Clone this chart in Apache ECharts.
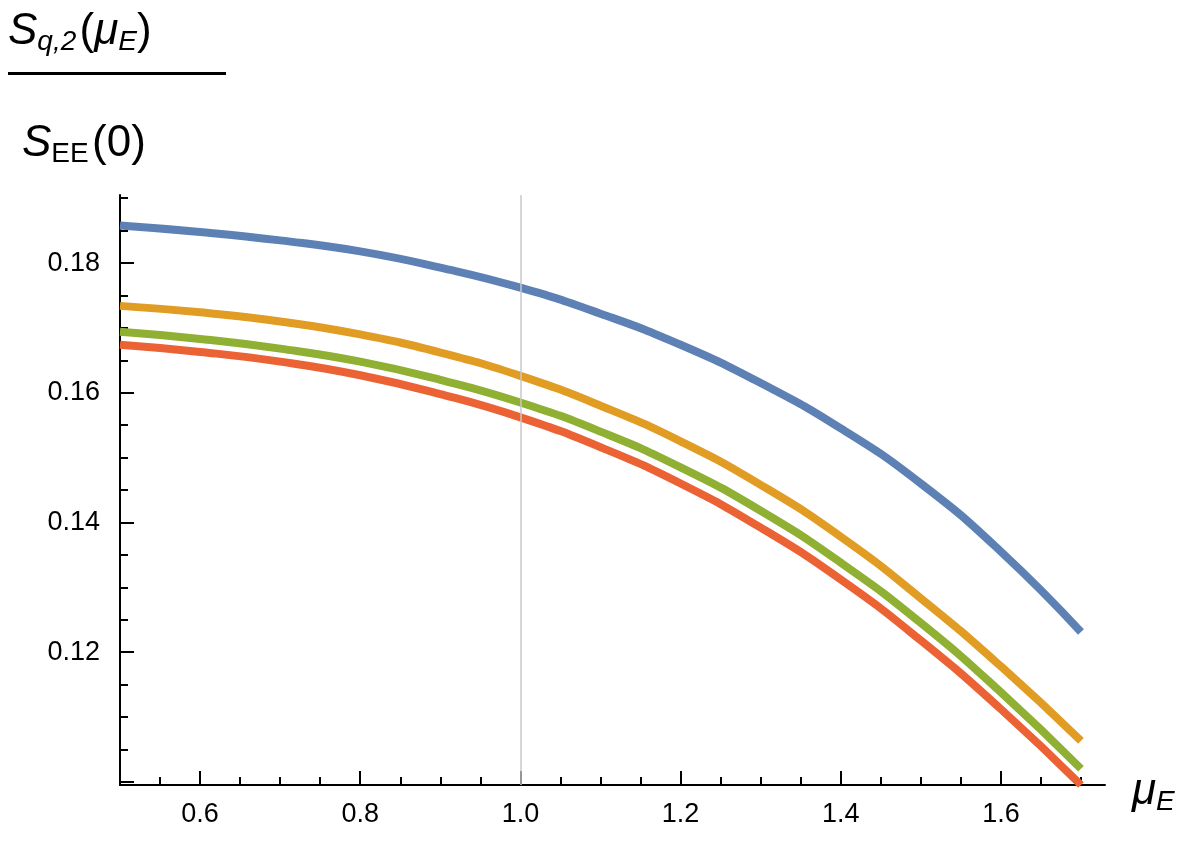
<!DOCTYPE html>
<html><head><meta charset="utf-8">
<script src="https://cdn.jsdelivr.net/npm/echarts@6/dist/echarts.min.js"></script>
<style>html,body{margin:0;background:#fff}#c{width:1204px;height:850px}</style>
</head><body><div id="c"></div>
<script>
// 数据
const xs = [0.5,0.6,0.7,0.8,0.9,1.0,1.1,1.2,1.3,1.4,1.5,1.6,1.7];
const blue   = [.1858,.1848,.1835,.1818,.1793,.1762,.1722,.1674,.1615,.1545,.1460,.1355,.1231];
const orange = [.1734,.1724,.1710,.1690,.1662,.1626,.1580,.1525,.1458,.1378,.1283,.1178,.1063];
const green  = [.1694,.1683,.1668,.1648,.1620,.1585,.1540,.1485,.1418,.1338,.1245,.1138,.1020];
const red    = [.1674,.1663,.1648,.1627,.1598,.1562,.1516,.1460,.1392,.1312,.1218,.1112,.0995];
const xLabels = [0.6,0.8,1.0,1.2,1.4,1.6];
const xMinor = [0.55,0.65,0.7,0.75,0.85,0.9,0.95,1.05,1.1,1.15,1.25,1.3,1.35,1.45,1.5,1.55,1.65,1.7];
const yLabels = [0.12,0.14,0.16,0.18];
const yMajor = [0.10,0.12,0.14,0.16,0.18];
const yMinor = [0.105,0.11,0.115,0.125,0.13,0.135,0.145,0.15,0.155,0.165,0.17,0.175,0.185,0.19];

const chart = echarts.init(document.getElementById('c'));
const font = 'Liberation Sans, Arial, sans-serif';
const xBase = { type: 'value', min: 0.5, max: 1.73, position: 'bottom', offset: 0, splitLine: { show: false } };
const yBase = { type: 'value', min: 0.0995, max: 0.1905, position: 'left', offset: 0, splitLine: { show: false } };
const tickAxis = (base, vals, len) => Object.assign({}, base, {
    axisLine: { show: false },
    axisTick: { show: true, inside: true, length: len, lineStyle: { color: '#000', width: 2 }, customValues: vals },
    axisLabel: { show: false }
});
const mk = (d, c) => ({
    type: 'line', xAxisIndex: 0, yAxisIndex: 0, showSymbol: false, smooth: true,
    data: xs.map((x, i) => [x, d[i]]), lineStyle: { color: c, width: 8 }, itemStyle: { color: c }
});
chart.setOption({
    animation: false,
    grid: { left: 120, top: 195, right: 99, bottom: 65 },
    xAxis: [
        Object.assign({}, xBase, {
            axisLine: { onZero: false, lineStyle: { color: '#000', width: 2 } },
            axisTick: { show: false },
            axisLabel: { customValues: xLabels, color: '#000', fontSize: 27, fontFamily: font, margin: 16,
                formatter: v => v.toFixed(1) }
        }),
        tickAxis(xBase, xLabels, 14),
        tickAxis(xBase, xMinor, 8)
    ],
    yAxis: [
        Object.assign({}, yBase, {
            axisLine: { onZero: false, lineStyle: { color: '#000', width: 2 } },
            axisTick: { show: false },
            axisLabel: { customValues: yLabels, color: '#000', fontSize: 27, fontFamily: font, margin: 20,
                formatter: v => v.toFixed(2) }
        }),
        tickAxis(yBase, yMajor, 14),
        tickAxis(yBase, yMinor, 8)
    ],
    series: [
        Object.assign(mk(blue, '#5E81B5'), {
            markLine: { silent: true, symbol: 'none', label: { show: false },
                lineStyle: { color: '#c8c8c8', width: 1.5, type: 'solid' }, data: [{ xAxis: 1.0 }] }
        }),
        mk(orange, '#E19C24'),
        mk(green, '#8FB032'),
        mk(red, '#EB6235')
    ],
    graphic: [
        { type: 'text', left: 8, top: 10, style: {
            text: '{s|S}{sub|q,2} {n|(}{s|μ}{sub|E}{n|)}', fill: '#000',
            rich: { s: { fontSize: 44, fontStyle: 'italic', fontFamily: font },
                    n: { fontSize: 44, fontFamily: font },
                    sub: { fontSize: 28, fontStyle: 'italic', fontFamily: font, verticalAlign: 'bottom', padding: [20, 0, 0, 0] } } } },
        { type: 'rect', shape: { x: 8, y: 72, width: 218, height: 3 }, style: { fill: '#000' } },
        { type: 'text', left: 22, top: 122, style: {
            text: '{s|S}{sub|EE} {n|(0)}', fill: '#000',
            rich: { s: { fontSize: 44, fontStyle: 'italic', fontFamily: font },
                    n: { fontSize: 44, fontFamily: font },
                    sub: { fontSize: 28, fontFamily: font, verticalAlign: 'bottom', padding: [20, 0, 0, 0] } } } },
        { type: 'text', left: 1132, top: 770, style: {
            text: '{s|μ}{sub|E}', fill: '#000',
            rich: { s: { fontSize: 44, fontStyle: 'italic', fontFamily: font },
                    sub: { fontSize: 28, fontStyle: 'italic', fontFamily: font, verticalAlign: 'bottom', padding: [20, 0, 0, 0] } } } }
    ]
});
</script>
</body></html>
